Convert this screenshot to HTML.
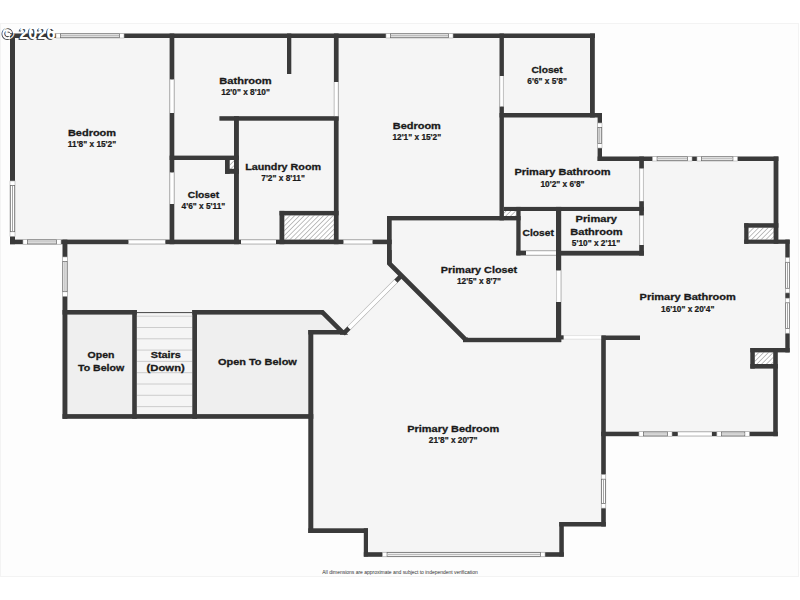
<!DOCTYPE html>
<html><head><meta charset="utf-8"><title>Floor plan</title>
<style>
html,body{margin:0;padding:0;background:#fff;}
body{width:800px;height:600px;overflow:hidden;}
svg{display:block;font-family:"Liberation Sans",sans-serif;}
</style></head>
<body>
<svg width="800" height="600" viewBox="0 0 800 600">
<defs>
<pattern id="hatch" patternUnits="userSpaceOnUse" width="3.4" height="3.4" patternTransform="rotate(45)">
<rect width="3.4" height="3.4" fill="#ffffff"/>
<line x1="0" y1="0" x2="0" y2="3.4" stroke="#555" stroke-width="0.75"/>
</pattern>
<filter id="blur" x="-10%" y="-20%" width="120%" height="140%"><feGaussianBlur stdDeviation="0.45"/></filter>
</defs>
<rect x="0" y="0" width="800" height="600" fill="#ffffff"/>
<rect x="0.5" y="23.5" width="798" height="553" fill="#fdfdfd" stroke="#f3f3f3" stroke-width="1"/>
<polygon points="10.00,33.50 595.00,33.50 595.00,113.00 602.00,113.00 602.00,156.50 778.40,156.50 778.40,239.60 789.70,239.60 789.70,352.40 778.00,352.40 778.00,436.20 605.80,436.20 605.80,526.50 563.80,526.50 563.80,556.50 363.80,556.50 363.80,533.00 308.30,533.00 308.30,418.80 62.50,418.80 62.50,244.20 10.00,244.20" fill="#f5f5f5"/>
<rect x="67.40" y="314.60" width="64.80" height="99.50" fill="#efefef" />
<polygon points="197.00,314.60 322.50,314.60 338.00,330.00 308.30,330.00 308.30,414.10 197.00,414.10" fill="#efefef"/>
<g stroke="#c8c8c8" stroke-width="0.9">
<line x1="136.8" y1="316.20" x2="192.3" y2="316.20"/>
<line x1="136.8" y1="327.50" x2="192.3" y2="327.50"/>
<line x1="136.8" y1="338.80" x2="192.3" y2="338.80"/>
<line x1="136.8" y1="350.10" x2="192.3" y2="350.10"/>
<line x1="136.8" y1="361.40" x2="192.3" y2="361.40"/>
<line x1="136.8" y1="372.70" x2="192.3" y2="372.70"/>
<line x1="136.8" y1="384.00" x2="192.3" y2="384.00"/>
<line x1="136.8" y1="395.30" x2="192.3" y2="395.30"/>
<line x1="136.8" y1="406.60" x2="192.3" y2="406.60"/>
</g>
<line x1="136.8" y1="312.6" x2="192.3" y2="312.6" stroke="#444" stroke-width="1"/>
<rect x="229.70" y="160.00" width="4.30" height="8.80" fill="url(#hatch)" />
<rect x="284.30" y="215.40" width="49.60" height="24.20" fill="url(#hatch)" />
<rect x="503.90" y="211.00" width="12.40" height="5.00" fill="url(#hatch)" />
<rect x="748.50" y="227.70" width="25.40" height="11.90" fill="url(#hatch)" />
<rect x="754.80" y="352.40" width="18.40" height="11.60" fill="url(#hatch)" />
<rect x="10.00" y="33.50" width="585.00" height="4.50" fill="#3a3a3a" />
<rect x="10.00" y="33.50" width="5.00" height="210.70" fill="#3a3a3a" />
<rect x="10.00" y="239.60" width="381.70" height="4.60" fill="#3a3a3a" />
<rect x="169.60" y="33.50" width="4.70" height="210.70" fill="#3a3a3a" />
<rect x="287.00" y="33.50" width="4.30" height="40.50" fill="#3a3a3a" />
<rect x="333.90" y="33.50" width="4.70" height="210.70" fill="#3a3a3a" />
<rect x="219.40" y="116.20" width="119.20" height="4.50" fill="#3a3a3a" />
<rect x="234.00" y="116.20" width="4.90" height="128.00" fill="#3a3a3a" />
<rect x="169.60" y="155.60" width="69.30" height="4.40" fill="#3a3a3a" />
<rect x="225.00" y="160.00" width="4.70" height="13.80" fill="#3a3a3a" />
<rect x="225.00" y="168.80" width="13.90" height="5.00" fill="#3a3a3a" />
<rect x="279.50" y="210.90" width="4.80" height="33.30" fill="#3a3a3a" />
<rect x="279.50" y="210.90" width="59.10" height="4.50" fill="#3a3a3a" />
<rect x="499.50" y="33.50" width="4.40" height="186.90" fill="#3a3a3a" />
<rect x="590.00" y="33.50" width="4.80" height="84.00" fill="#3a3a3a" />
<rect x="499.50" y="113.00" width="102.50" height="4.50" fill="#3a3a3a" />
<rect x="597.60" y="113.00" width="4.40" height="48.00" fill="#3a3a3a" />
<rect x="597.60" y="156.50" width="180.80" height="4.50" fill="#3a3a3a" />
<rect x="773.60" y="156.50" width="4.80" height="87.30" fill="#3a3a3a" />
<rect x="744.20" y="223.20" width="4.30" height="20.60" fill="#3a3a3a" />
<rect x="744.20" y="223.20" width="34.20" height="4.50" fill="#3a3a3a" />
<rect x="744.20" y="239.60" width="45.50" height="4.20" fill="#3a3a3a" />
<rect x="785.30" y="239.60" width="4.40" height="112.80" fill="#3a3a3a" />
<rect x="750.30" y="348.00" width="39.40" height="4.40" fill="#3a3a3a" />
<rect x="750.30" y="348.00" width="4.50" height="20.60" fill="#3a3a3a" />
<rect x="750.30" y="364.00" width="27.50" height="4.60" fill="#3a3a3a" />
<rect x="773.20" y="348.00" width="4.60" height="88.20" fill="#3a3a3a" />
<rect x="601.20" y="431.70" width="176.60" height="4.50" fill="#3a3a3a" />
<rect x="601.20" y="335.50" width="4.60" height="191.00" fill="#3a3a3a" />
<rect x="601.20" y="335.50" width="38.80" height="4.50" fill="#3a3a3a" />
<rect x="639.20" y="156.50" width="4.70" height="99.10" fill="#3a3a3a" />
<rect x="503.90" y="206.90" width="140.00" height="4.10" fill="#3a3a3a" />
<rect x="387.00" y="216.00" width="133.60" height="4.40" fill="#3a3a3a" />
<rect x="387.00" y="216.00" width="4.70" height="48.00" fill="#3a3a3a" />
<rect x="516.30" y="206.90" width="4.30" height="48.50" fill="#3a3a3a" />
<rect x="516.30" y="250.60" width="39.70" height="4.80" fill="#3a3a3a" />
<rect x="556.00" y="206.90" width="5.20" height="135.10" fill="#3a3a3a" />
<rect x="556.00" y="250.80" width="87.90" height="4.80" fill="#3a3a3a" />
<rect x="463.00" y="337.80" width="98.20" height="4.40" fill="#3a3a3a" />
<rect x="556.00" y="335.30" width="7.80" height="4.20" fill="#3a3a3a" />
<rect x="62.50" y="239.60" width="4.90" height="179.20" fill="#3a3a3a" />
<rect x="62.50" y="310.00" width="74.30" height="4.60" fill="#3a3a3a" />
<rect x="132.20" y="310.00" width="4.60" height="108.80" fill="#3a3a3a" />
<rect x="192.30" y="310.00" width="4.70" height="108.80" fill="#3a3a3a" />
<rect x="62.50" y="414.10" width="250.80" height="4.70" fill="#3a3a3a" />
<rect x="192.30" y="310.00" width="130.70" height="4.60" fill="#3a3a3a" />
<rect x="308.30" y="330.00" width="35.70" height="4.50" fill="#3a3a3a" />
<rect x="308.30" y="330.00" width="5.00" height="203.00" fill="#3a3a3a" />
<rect x="308.30" y="528.30" width="59.70" height="4.70" fill="#3a3a3a" />
<rect x="363.80" y="528.30" width="4.20" height="28.20" fill="#3a3a3a" />
<rect x="363.80" y="552.20" width="200.00" height="4.60" fill="#3a3a3a" />
<rect x="559.30" y="522.00" width="4.50" height="34.50" fill="#3a3a3a" />
<rect x="559.30" y="522.00" width="46.50" height="4.50" fill="#3a3a3a" />
<polyline points="321.00,312.30 322.50,312.30 342.60,332.40 340.00,332.40" fill="none" stroke="#3a3a3a" stroke-width="4.6" stroke-linejoin="miter" stroke-miterlimit="6"/>
<polyline points="389.35,250.00 389.35,263.50 465.60,339.75 468.00,339.75" fill="none" stroke="#3a3a3a" stroke-width="4.6" stroke-linejoin="miter" stroke-miterlimit="6"/>
<line x1="343.2" y1="333.8" x2="401.6" y2="275.4" stroke="#3a3a3a" stroke-width="4.6"/>
<line x1="349.0" y1="328.0" x2="395.8" y2="281.2" stroke="#d8d8d8" stroke-width="4.6"/>
<line x1="349.0" y1="328.0" x2="395.8" y2="281.2" stroke="#ffffff" stroke-width="3.6"/>
<rect x="128.50" y="239.90" width="36.80" height="4.00" fill="#ffffff" />
<line x1="128.50" y1="240.20" x2="165.30" y2="240.20" stroke="#d0d0d0" stroke-width="0.6"/>
<line x1="128.50" y1="243.60" x2="165.30" y2="243.60" stroke="#d0d0d0" stroke-width="0.6"/>
<rect x="241.00" y="239.90" width="35.00" height="4.00" fill="#ffffff" />
<line x1="241.00" y1="240.20" x2="276.00" y2="240.20" stroke="#d0d0d0" stroke-width="0.6"/>
<line x1="241.00" y1="243.60" x2="276.00" y2="243.60" stroke="#d0d0d0" stroke-width="0.6"/>
<rect x="343.50" y="239.90" width="29.00" height="4.00" fill="#ffffff" />
<line x1="343.50" y1="240.20" x2="372.50" y2="240.20" stroke="#d0d0d0" stroke-width="0.6"/>
<line x1="343.50" y1="243.60" x2="372.50" y2="243.60" stroke="#d0d0d0" stroke-width="0.6"/>
<rect x="169.90" y="79.50" width="4.10" height="33.50" fill="#ffffff" />
<line x1="170.20" y1="79.50" x2="170.20" y2="113.00" stroke="#d0d0d0" stroke-width="0.6"/>
<line x1="173.70" y1="79.50" x2="173.70" y2="113.00" stroke="#d0d0d0" stroke-width="0.6"/>
<rect x="169.90" y="172.50" width="4.10" height="31.50" fill="#ffffff" />
<line x1="170.20" y1="172.50" x2="170.20" y2="204.00" stroke="#d0d0d0" stroke-width="0.6"/>
<line x1="173.70" y1="172.50" x2="173.70" y2="204.00" stroke="#d0d0d0" stroke-width="0.6"/>
<rect x="334.20" y="82.00" width="4.10" height="34.20" fill="#ffffff" />
<line x1="334.50" y1="82.00" x2="334.50" y2="116.20" stroke="#d0d0d0" stroke-width="0.6"/>
<line x1="338.00" y1="82.00" x2="338.00" y2="116.20" stroke="#d0d0d0" stroke-width="0.6"/>
<rect x="499.80" y="76.00" width="3.80" height="30.50" fill="#ffffff" />
<line x1="500.10" y1="76.00" x2="500.10" y2="106.50" stroke="#d0d0d0" stroke-width="0.6"/>
<line x1="503.30" y1="76.00" x2="503.30" y2="106.50" stroke="#d0d0d0" stroke-width="0.6"/>
<rect x="639.50" y="168.50" width="4.10" height="32.70" fill="#ffffff" />
<line x1="639.80" y1="168.50" x2="639.80" y2="201.20" stroke="#d0d0d0" stroke-width="0.6"/>
<line x1="643.30" y1="168.50" x2="643.30" y2="201.20" stroke="#d0d0d0" stroke-width="0.6"/>
<rect x="639.50" y="215.50" width="4.10" height="29.50" fill="#ffffff" />
<line x1="639.80" y1="215.50" x2="639.80" y2="245.00" stroke="#d0d0d0" stroke-width="0.6"/>
<line x1="643.30" y1="215.50" x2="643.30" y2="245.00" stroke="#d0d0d0" stroke-width="0.6"/>
<rect x="526.00" y="250.90" width="30.00" height="4.20" fill="#ffffff" />
<line x1="526.00" y1="251.20" x2="556.00" y2="251.20" stroke="#d0d0d0" stroke-width="0.6"/>
<line x1="526.00" y1="254.80" x2="556.00" y2="254.80" stroke="#d0d0d0" stroke-width="0.6"/>
<rect x="556.30" y="270.50" width="4.60" height="31.50" fill="#ffffff" />
<line x1="556.60" y1="270.50" x2="556.60" y2="302.00" stroke="#d0d0d0" stroke-width="0.6"/>
<line x1="560.60" y1="270.50" x2="560.60" y2="302.00" stroke="#d0d0d0" stroke-width="0.6"/>
<rect x="563.80" y="335.30" width="37.40" height="4.20" fill="#ffffff" />
<line x1="563.80" y1="335.60" x2="601.20" y2="335.60" stroke="#d0d0d0" stroke-width="0.6"/>
<line x1="563.80" y1="339.20" x2="601.20" y2="339.20" stroke="#d0d0d0" stroke-width="0.6"/>
<rect x="677.80" y="432.00" width="34.10" height="3.90" fill="#ffffff" />
<line x1="677.80" y1="432.30" x2="711.90" y2="432.30" stroke="#d0d0d0" stroke-width="0.6"/>
<line x1="677.80" y1="435.60" x2="711.90" y2="435.60" stroke="#d0d0d0" stroke-width="0.6"/>
<rect x="56.00" y="33.50" width="68.00" height="4.50" fill="#ffffff" stroke="#b0b0b0" stroke-width="0.6"/>
<rect x="60.60" y="33.85" width="58.80" height="3.80" fill="#ffffff" stroke="#6a6a6a" stroke-width="0.75"/>
<line x1="61.00" y1="35.75" x2="119.00" y2="35.75" stroke="#bdbdbd" stroke-width="1.3"/>
<rect x="386.00" y="33.50" width="67.00" height="4.50" fill="#ffffff" stroke="#b0b0b0" stroke-width="0.6"/>
<rect x="390.60" y="33.85" width="57.80" height="3.80" fill="#ffffff" stroke="#6a6a6a" stroke-width="0.75"/>
<line x1="391.00" y1="35.75" x2="448.00" y2="35.75" stroke="#bdbdbd" stroke-width="1.3"/>
<rect x="652.50" y="156.50" width="39.50" height="4.50" fill="#ffffff" stroke="#b0b0b0" stroke-width="0.6"/>
<rect x="657.10" y="156.85" width="30.30" height="3.80" fill="#ffffff" stroke="#6a6a6a" stroke-width="0.75"/>
<line x1="657.50" y1="158.75" x2="687.00" y2="158.75" stroke="#bdbdbd" stroke-width="1.3"/>
<rect x="697.00" y="156.50" width="40.50" height="4.50" fill="#ffffff" stroke="#b0b0b0" stroke-width="0.6"/>
<rect x="701.60" y="156.85" width="31.30" height="3.80" fill="#ffffff" stroke="#6a6a6a" stroke-width="0.75"/>
<line x1="702.00" y1="158.75" x2="732.50" y2="158.75" stroke="#bdbdbd" stroke-width="1.3"/>
<rect x="10.00" y="181.00" width="5.00" height="55.30" fill="#ffffff" stroke="#b0b0b0" stroke-width="0.6"/>
<rect x="10.35" y="185.60" width="4.30" height="46.10" fill="#ffffff" stroke="#6a6a6a" stroke-width="0.75"/>
<line x1="12.50" y1="186.00" x2="12.50" y2="231.30" stroke="#9a9a9a" stroke-width="0.9"/>
<rect x="23.00" y="239.60" width="38.00" height="4.60" fill="#ffffff" stroke="#b0b0b0" stroke-width="0.6"/>
<rect x="27.60" y="239.95" width="28.80" height="3.90" fill="#ffffff" stroke="#6a6a6a" stroke-width="0.75"/>
<line x1="28.00" y1="241.90" x2="56.00" y2="241.90" stroke="#bdbdbd" stroke-width="1.3"/>
<rect x="62.50" y="257.00" width="4.90" height="39.30" fill="#ffffff" stroke="#b0b0b0" stroke-width="0.6"/>
<rect x="62.85" y="261.60" width="4.20" height="30.10" fill="#ffffff" stroke="#6a6a6a" stroke-width="0.75"/>
<line x1="64.95" y1="262.00" x2="64.95" y2="291.30" stroke="#9a9a9a" stroke-width="0.9"/>
<rect x="597.60" y="123.00" width="4.40" height="25.00" fill="#ffffff" stroke="#b0b0b0" stroke-width="0.6"/>
<rect x="597.95" y="127.60" width="3.70" height="15.80" fill="#ffffff" stroke="#6a6a6a" stroke-width="0.75"/>
<line x1="599.80" y1="128.00" x2="599.80" y2="143.00" stroke="#9a9a9a" stroke-width="0.9"/>
<rect x="785.30" y="257.70" width="4.40" height="35.20" fill="#ffffff" stroke="#b0b0b0" stroke-width="0.6"/>
<rect x="785.65" y="262.30" width="3.70" height="26.00" fill="#ffffff" stroke="#6a6a6a" stroke-width="0.75"/>
<line x1="787.50" y1="262.70" x2="787.50" y2="287.90" stroke="#9a9a9a" stroke-width="0.9"/>
<rect x="785.30" y="298.20" width="4.40" height="35.00" fill="#ffffff" stroke="#b0b0b0" stroke-width="0.6"/>
<rect x="785.65" y="302.80" width="3.70" height="25.80" fill="#ffffff" stroke="#6a6a6a" stroke-width="0.75"/>
<line x1="787.50" y1="303.20" x2="787.50" y2="328.20" stroke="#9a9a9a" stroke-width="0.9"/>
<rect x="639.00" y="431.70" width="33.00" height="4.50" fill="#ffffff" stroke="#b0b0b0" stroke-width="0.6"/>
<rect x="643.60" y="432.05" width="23.80" height="3.80" fill="#ffffff" stroke="#6a6a6a" stroke-width="0.75"/>
<line x1="644.00" y1="433.95" x2="667.00" y2="433.95" stroke="#bdbdbd" stroke-width="1.3"/>
<rect x="716.90" y="431.70" width="32.50" height="4.50" fill="#ffffff" stroke="#b0b0b0" stroke-width="0.6"/>
<rect x="721.50" y="432.05" width="23.30" height="3.80" fill="#ffffff" stroke="#6a6a6a" stroke-width="0.75"/>
<line x1="721.90" y1="433.95" x2="744.40" y2="433.95" stroke="#bdbdbd" stroke-width="1.3"/>
<rect x="601.20" y="474.60" width="4.60" height="33.50" fill="#ffffff" stroke="#b0b0b0" stroke-width="0.6"/>
<rect x="601.55" y="479.20" width="3.90" height="24.30" fill="#ffffff" stroke="#6a6a6a" stroke-width="0.75"/>
<line x1="603.50" y1="479.60" x2="603.50" y2="503.10" stroke="#9a9a9a" stroke-width="0.9"/>
<rect x="382.50" y="552.20" width="162.50" height="4.60" fill="#ffffff" stroke="#b0b0b0" stroke-width="0.6"/>
<rect x="387.10" y="552.55" width="153.30" height="3.90" fill="#ffffff" stroke="#6a6a6a" stroke-width="0.75"/>
<line x1="387.50" y1="554.50" x2="540.00" y2="554.50" stroke="#bdbdbd" stroke-width="1.3"/>
<text x="92" y="136.2" font-size="9.8" font-weight="bold" fill="#1a1a1a" text-anchor="middle"  textLength="48.15" lengthAdjust="spacingAndGlyphs" stroke="#1a1a1a" stroke-width="0.3">Bedroom</text>
<text x="92" y="147.3" font-size="8.3" font-weight="bold" fill="#1a1a1a" text-anchor="middle"  stroke="#1a1a1a" stroke-width="0.22">11'8&quot; x 15'2&quot;</text>
<text x="245.5" y="84" font-size="9.8" font-weight="bold" fill="#1a1a1a" text-anchor="middle"  textLength="52.3" lengthAdjust="spacingAndGlyphs" stroke="#1a1a1a" stroke-width="0.3">Bathroom</text>
<text x="245.5" y="95" font-size="8.3" font-weight="bold" fill="#1a1a1a" text-anchor="middle"  stroke="#1a1a1a" stroke-width="0.22">12'0&quot; x 8'10&quot;</text>
<text x="416.8" y="128.5" font-size="9.8" font-weight="bold" fill="#1a1a1a" text-anchor="middle"  textLength="48.15" lengthAdjust="spacingAndGlyphs" stroke="#1a1a1a" stroke-width="0.3">Bedroom</text>
<text x="416.8" y="139.5" font-size="8.3" font-weight="bold" fill="#1a1a1a" text-anchor="middle"  stroke="#1a1a1a" stroke-width="0.22">12'1&quot; x 15'2&quot;</text>
<text x="547.1" y="73" font-size="9.8" font-weight="bold" fill="#1a1a1a" text-anchor="middle"  textLength="31.3" lengthAdjust="spacingAndGlyphs" stroke="#1a1a1a" stroke-width="0.3">Closet</text>
<text x="547.1" y="84" font-size="8.3" font-weight="bold" fill="#1a1a1a" text-anchor="middle"  stroke="#1a1a1a" stroke-width="0.22">6'6&quot; x 5'8&quot;</text>
<text x="283.1" y="170.2" font-size="9.8" font-weight="bold" fill="#1a1a1a" text-anchor="middle"  textLength="75.88" lengthAdjust="spacingAndGlyphs" stroke="#1a1a1a" stroke-width="0.3">Laundry Room</text>
<text x="283.1" y="181.4" font-size="8.3" font-weight="bold" fill="#1a1a1a" text-anchor="middle"  stroke="#1a1a1a" stroke-width="0.22">7'2&quot; x 8'11&quot;</text>
<text x="203.4" y="197.9" font-size="9.8" font-weight="bold" fill="#1a1a1a" text-anchor="middle"  textLength="31.3" lengthAdjust="spacingAndGlyphs" stroke="#1a1a1a" stroke-width="0.3">Closet</text>
<text x="203.4" y="208.9" font-size="8.3" font-weight="bold" fill="#1a1a1a" text-anchor="middle"  stroke="#1a1a1a" stroke-width="0.22">4'6&quot; x 5'11&quot;</text>
<text x="562.5" y="175.1" font-size="9.8" font-weight="bold" fill="#1a1a1a" text-anchor="middle"  textLength="96.14" lengthAdjust="spacingAndGlyphs" stroke="#1a1a1a" stroke-width="0.3">Primary Bathroom</text>
<text x="562.5" y="186.6" font-size="8.3" font-weight="bold" fill="#1a1a1a" text-anchor="middle"  stroke="#1a1a1a" stroke-width="0.22">10'2&quot; x 6'8&quot;</text>
<text x="479" y="272.75" font-size="9.8" font-weight="bold" fill="#1a1a1a" text-anchor="middle"  textLength="76.31" lengthAdjust="spacingAndGlyphs" stroke="#1a1a1a" stroke-width="0.3">Primary Closet</text>
<text x="479" y="284" font-size="8.3" font-weight="bold" fill="#1a1a1a" text-anchor="middle"  stroke="#1a1a1a" stroke-width="0.22">12'5&quot; x 8'7&quot;</text>
<text x="687.7" y="300.45" font-size="9.8" font-weight="bold" fill="#1a1a1a" text-anchor="middle"  textLength="96.14" lengthAdjust="spacingAndGlyphs" stroke="#1a1a1a" stroke-width="0.3">Primary Bathroom</text>
<text x="687.7" y="311.7" font-size="8.3" font-weight="bold" fill="#1a1a1a" text-anchor="middle"  stroke="#1a1a1a" stroke-width="0.22">16'10&quot; x 20'4&quot;</text>
<text x="453.2" y="431.5" font-size="9.8" font-weight="bold" fill="#1a1a1a" text-anchor="middle"  textLength="91.87" lengthAdjust="spacingAndGlyphs" stroke="#1a1a1a" stroke-width="0.3">Primary Bedroom</text>
<text x="453.2" y="442.5" font-size="8.3" font-weight="bold" fill="#1a1a1a" text-anchor="middle"  stroke="#1a1a1a" stroke-width="0.22">21'8&quot; x 20'7&quot;</text>
<text x="538.2" y="235.9" font-size="9.8" font-weight="bold" fill="#1a1a1a" text-anchor="middle"  textLength="31.3" lengthAdjust="spacingAndGlyphs" stroke="#1a1a1a" stroke-width="0.3">Closet</text>
<text x="596.3" y="221.7" font-size="9.8" font-weight="bold" fill="#1a1a1a" text-anchor="middle"  textLength="41.34" lengthAdjust="spacingAndGlyphs" stroke="#1a1a1a" stroke-width="0.3">Primary</text>
<text x="596.4" y="235.0" font-size="9.8" font-weight="bold" fill="#1a1a1a" text-anchor="middle"  textLength="52.3" lengthAdjust="spacingAndGlyphs" stroke="#1a1a1a" stroke-width="0.3">Bathroom</text>
<text x="596.0" y="245.6" font-size="8.3" font-weight="bold" fill="#1a1a1a" text-anchor="middle"  stroke="#1a1a1a" stroke-width="0.22">5'10&quot; x 2'11&quot;</text>
<text x="101" y="358.2" font-size="9.8" font-weight="bold" fill="#1a1a1a" text-anchor="middle"  textLength="26.88" lengthAdjust="spacingAndGlyphs" stroke="#1a1a1a" stroke-width="0.3">Open</text>
<text x="101.1" y="371.2" font-size="9.8" font-weight="bold" fill="#1a1a1a" text-anchor="middle"  textLength="46.22" lengthAdjust="spacingAndGlyphs" stroke="#1a1a1a" stroke-width="0.3">To Below</text>
<text x="165.8" y="357.5" font-size="9.8" font-weight="bold" fill="#1a1a1a" text-anchor="middle"  textLength="30.15" lengthAdjust="spacingAndGlyphs" stroke="#1a1a1a" stroke-width="0.3">Stairs</text>
<text x="165.7" y="370.9" font-size="9.8" font-weight="bold" fill="#1a1a1a" text-anchor="middle"  textLength="38.23" lengthAdjust="spacingAndGlyphs" stroke="#1a1a1a" stroke-width="0.3">(Down)</text>
<text x="257.4" y="364.75" font-size="9.8" font-weight="bold" fill="#1a1a1a" text-anchor="middle"  textLength="78.94" lengthAdjust="spacingAndGlyphs" stroke="#1a1a1a" stroke-width="0.3">Open To Below</text>
<text x="400" y="573.6" font-size="5.0" font-weight="normal" fill="#333" text-anchor="middle" textLength="155.5">All dimensions are approximate and subject to independent verification</text>
<g font-size="16" font-weight="bold" text-anchor="start">
<text x="1.3" y="40.2" fill="#2a2a2a" opacity="0.85" filter="url(#blur)" textLength="53" lengthAdjust="spacingAndGlyphs">© 2026</text>
<text x="2.6" y="39.2" fill="#ffffff" textLength="53" lengthAdjust="spacingAndGlyphs">© 2026</text>
</g>
</svg>
</body></html>
